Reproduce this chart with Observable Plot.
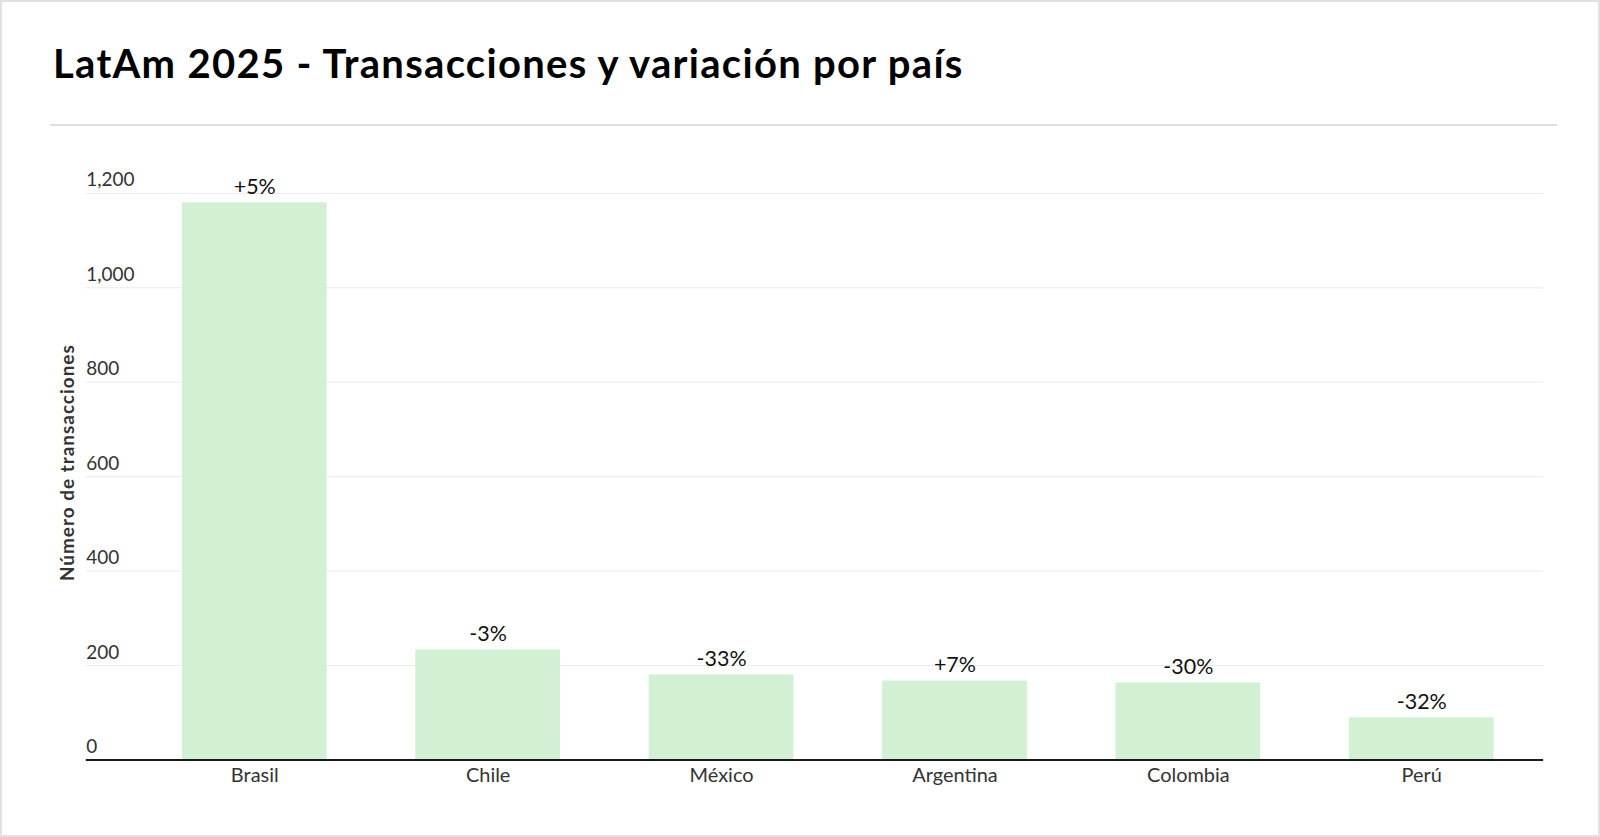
<!DOCTYPE html>
<html>
<head>
<meta charset="utf-8">
<script src="https://cdn.jsdelivr.net/npm/d3@7"></script>
<script src="https://cdn.jsdelivr.net/npm/@observablehq/plot@0.6"></script>
<style>
  html, body { margin: 0; padding: 0; background: #fff; }
  #card {
    position: absolute; left: 0; top: 0; width: 1600px; height: 837px;
    box-sizing: border-box; border: 2px solid #e2e2e2; background: #fff;
    font-family: Lato, "Open Sans", sans-serif;
  }
  #title {
    position: absolute; left: 51px; top: 37px; margin: 0;
    font-family: Lato, sans-serif; font-weight: 700; font-size: 40px;
    color: #000; white-space: nowrap; letter-spacing: 1.3px; line-height: 1.2;
  }
  #sep {
    position: absolute; left: 48px; top: 122px; width: 1507px; height: 2px;
    background: #e0e0e0;
  }
  #chart { position: absolute; left: 0; top: 130px; }
</style>
</head>
<body>
<div id="card">
  <h1 id="title">LatAm 2025 - Transacciones y variación por país</h1>
  <div id="sep"></div>
  <div id="chart"></div>
</div>
<script>
const countries = ["Brasil", "Chile", "México", "Argentina", "Colombia", "Perú"];
const transacciones = [1180, 233, 180, 167, 163, 89];
const variacion = [5, -3, -33, 7, -30, -32];
const yTicks = [0, 200, 400, 600, 800, 1000, 1200];

const data = countries.map((c, i) => ({
  pais: c,
  valor: transacciones[i],
  label: (variacion[i] > 0 ? "+" : "") + variacion[i] + "%"
}));

const plot = Plot.plot({
  width: 1600,
  height: 707,
  marginLeft: 84,
  marginRight: 55,
  marginTop: 61,
  marginBottom: 78,
  style: { fontFamily: "Lato, 'Open Sans', sans-serif", color: "#333", background: "transparent" },
  x: { domain: countries, paddingInner: 0.38, paddingOuter: 0.312, align: 0.66, round: false, label: null },
  y: { domain: [0, 1200], label: null },
  marks: [
    Plot.gridY(yTicks, { stroke: "#ebebeb", strokeOpacity: 1, strokeWidth: 1 }),
    Plot.barY(data, { x: "pais", y: "valor", fill: "#d2f1d4" }),
    Plot.ruleY([0], { stroke: "#1a1a1a", strokeWidth: 2 }),
    Plot.text(data, { x: "pais", y: "valor", text: "label", lineAnchor: "bottom", dy: -9, fontSize: 21.5, fill: "#111" }),
    Plot.axisY(yTicks, {
      tickSize: 0, tickPadding: 0, textAnchor: "start", lineAnchor: "bottom", dx: 0, dy: -7,
      tickFormat: d3.format(","), fontSize: 19, fill: "#333",
      label: "Número de transacciones", labelAnchor: "center", labelArrow: "none", labelOffset: 26
    }),
    Plot.axisX({ tickSize: 0, tickPadding: 8, fontSize: 20, fill: "#333", label: null })
  ]
});
document.getElementById("chart").appendChild(plot);

// style the y-axis label (bold, slightly raised)
plot.querySelectorAll("[aria-label='y-axis label'] text").forEach(el => {
  el.setAttribute("font-weight", "700");
  el.setAttribute("font-size", "19");
  el.setAttribute("letter-spacing", "1");
  el.setAttribute("fill", "#333");
  el.setAttribute("dx", "14");
});
</script>
</body>
</html>
